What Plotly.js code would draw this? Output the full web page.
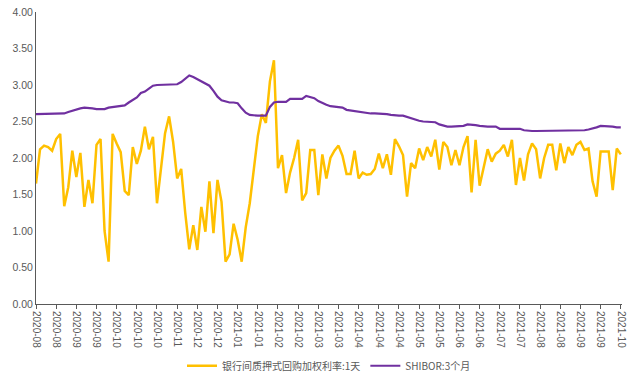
<!DOCTYPE html>
<html>
<head>
<meta charset="utf-8">
<script src="https://cdn.plot.ly/plotly-3.0.1.min.js"></script>
<style>html,body{margin:0;padding:0;background:#fff;}#chart{width:632px;height:379px;}</style>
</head>
<body>
<div id="chart"></div>
<script>
// Tick labels (one every 5 samples of the series)
const tickLabels = ["2020-08","2020-08","2020-09","2020-09","2020-10","2020-10","2020-10","2020-11","2020-12","2020-12",
  "2021-01","2021-01","2021-02","2021-02","2021-03","2021-03","2021-04","2021-04","2021-04","2021-05",
  "2021-05","2021-06","2021-06","2021-07","2021-07","2021-08","2021-08","2021-09","2021-09","2021-10"];

// 银行间质押式回购加权利率:1天
const repo1d = [
  1.65,2.12,2.17,2.15,2.10,2.26,2.33,1.34,1.60,2.10,
  1.74,2.07,1.33,1.70,1.38,2.18,2.26,1.00,0.58,2.33,
  2.20,2.08,1.55,1.49,2.15,1.92,2.10,2.43,2.12,2.29,
  1.38,1.85,2.34,2.57,2.22,1.72,1.85,1.25,0.75,1.08,
  0.74,1.33,0.99,1.68,0.97,1.70,1.40,0.58,0.68,1.10,
  0.88,0.58,1.05,1.38,1.88,2.30,2.60,2.48,3.05,3.34,
  1.86,2.04,1.52,1.80,2.00,2.25,1.42,1.52,2.11,2.11,
  1.49,2.05,1.72,2.00,2.10,2.17,2.03,1.78,1.78,2.10,
  1.72,1.80,1.77,1.78,1.85,2.06,1.86,2.05,1.77,2.26,
  2.16,2.04,1.47,1.93,1.86,2.13,1.97,2.15,2.02,2.25,
  1.84,2.22,2.15,1.90,2.11,1.90,2.15,2.30,1.53,2.25,
  1.62,1.88,2.12,1.95,2.06,2.10,2.18,2.02,2.25,1.63,
  2.00,1.69,2.05,2.20,2.12,1.72,2.00,2.18,2.18,1.83,
  2.20,1.93,2.15,2.04,2.18,2.22,2.11,2.13,1.68,1.47,
  2.09,2.09,2.09,1.56,2.13,2.05
];

// SHIBOR:3个月
const shibor3m = [
  2.60,2.60,2.60,2.60,2.60,2.60,2.60,2.61,2.63,2.65,
  2.67,2.68,2.69,2.69,2.68,2.67,2.67,2.67,2.69,2.70,
  2.70,2.71,2.72,2.76,2.79,2.83,2.89,2.91,2.95,2.99,
  3.00,3.00,3.00,3.00,3.00,3.01,3.04,3.09,3.13,3.11,
  3.08,3.06,3.02,2.99,2.92,2.84,2.79,2.77,2.76,2.76,
  2.75,2.68,2.62,2.59,2.58,2.58,2.58,2.58,2.70,2.76,
  2.77,2.77,2.77,2.81,2.81,2.81,2.81,2.85,2.84,2.82,
  2.78,2.75,2.73,2.71,2.70,2.70,2.69,2.66,2.65,2.64,
  2.63,2.63,2.62,2.61,2.61,2.61,2.61,2.60,2.59,2.58,
  2.58,2.58,2.56,2.54,2.52,2.51,2.50,2.50,2.50,2.49,
  2.46,2.44,2.43,2.43,2.43,2.43,2.44,2.46,2.46,2.45,
  2.44,2.43,2.43,2.43,2.43,2.40,2.40,2.40,2.40,2.40,
  2.40,2.38,2.37,2.37,2.37,2.37,2.37,2.37,2.37,2.37,
  2.37,2.37,2.37,2.37,2.37,2.37,2.38,2.39,2.40,2.42,
  2.44,2.44,2.44,2.43,2.42,2.42
];

const seriesNames = ["银行间质押式回购加权利率:1天", "SHIBOR:3个月"];

const labelStep = 5;
const tickVals = tickLabels.map((_, k) => k * labelStep);

const traces = [
  {
    y: repo1d, type: "scatter", mode: "lines", name: seriesNames[0],
    line: {color: "#FFC000", width: 2.5}
  },
  {
    y: shibor3m, type: "scatter", mode: "lines", name: seriesNames[1],
    line: {color: "#7030A0", width: 2.2}
  }
];

const layout = {
  width: 632, height: 379,
  margin: {l: 36, r: 10, t: 12, b: 75, autoexpand: false},
  paper_bgcolor: "#fff", plot_bgcolor: "#fff",
  font: {family: "Liberation Sans, Arial, sans-serif", color: "#595959", size: 10},
  showlegend: true,
  legend: {
    orientation: "h", x: 0.5, xanchor: "center",
    yref: "container", y: 0.035, yanchor: "middle",
    font: {family: "Noto Sans CJK SC, sans-serif", size: 10, color: "#595959"},
    itemwidth: 30, tracegroupgap: 0
  },
  xaxis: {
    automargin: false,
    range: [0, repo1d.length - 1 + 0.3],
    tickmode: "array", tickvals: tickVals, ticktext: tickLabels,
    tickangle: 90, ticks: "outside", ticklen: 4, tickcolor: "#595959",
    showline: true, linecolor: "#595959", linewidth: 1,
    showgrid: false, zeroline: false,
    tickfont: {size: 10, color: "#595959"}
  },
  yaxis: {
    automargin: false,
    range: [0, 4], dtick: 0.5, tickformat: ".2f",
    showline: true, linecolor: "#595959", linewidth: 1,
    showgrid: false, zeroline: false, ticks: "",
    tickfont: {size: 10.5, color: "#595959"}
  }
};

Plotly.newPlot("chart", traces, layout, {displayModeBar: false, staticPlot: true});
</script>
</body>
</html>
